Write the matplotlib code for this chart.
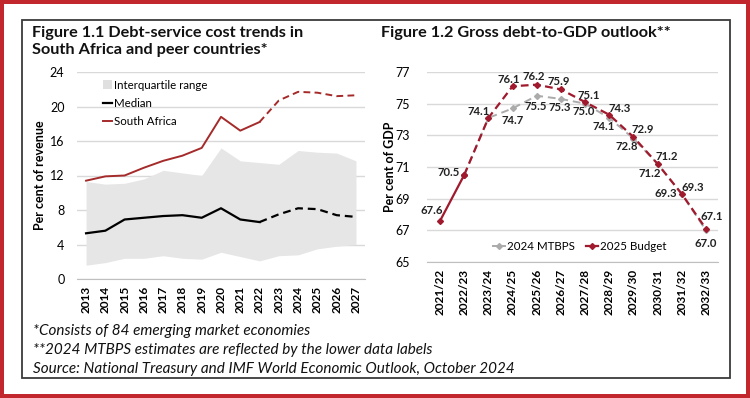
import matplotlib
matplotlib.use("Agg")
import matplotlib.pyplot as plt
from matplotlib.patches import Rectangle, Patch
from matplotlib.lines import Line2D
import numpy as np

plt.rcParams['font.family'] = ['Lato', 'DejaVu Sans']

# ---------------- data ----------------
years = ['2013', '2014', '2015', '2016', '2017', '2018', '2019', '2020',
         '2021', '2022', '2023', '2024', '2025', '2026', '2027']
south_africa = [11.4, 11.9, 12.0, 12.9, 13.7, 14.3, 15.2, 18.8, 17.2, 18.2,
                20.7, 21.7, 21.6, 21.2, 21.3]
median = [5.3, 5.6, 6.9, 7.1, 7.3, 7.4, 7.1, 8.2, 6.9, 6.6, 7.5, 8.2, 8.1, 7.4, 7.2]
iqr_upper = [11.3, 11.0, 11.1, 11.6, 12.6, 12.3, 12.0, 15.2, 13.7, 13.5, 13.3,
             14.9, 14.7, 14.6, 13.7]
iqr_lower = [1.6, 1.9, 2.4, 2.4, 2.7, 2.4, 2.3, 3.1, 2.6, 2.1, 2.7, 2.8, 3.5, 3.8, 4.0]
last_actual_year = '2022'

fiscal_years = ['2021/22', '2022/23', '2023/24', '2024/25', '2025/26', '2026/27',
                '2027/28', '2028/29', '2029/30', '2030/31', '2031/32', '2032/33']
budget_2025 = [67.6, 70.5, 74.1, 76.1, 76.2, 75.9, 75.1, 74.3, 72.9, 71.2, 69.3, 67.1]
mtbps_2024 = [67.6, 70.5, 74.1, 74.7, 75.5, 75.3, 75.0, 74.1, 72.8, 71.2, 69.3, 67.0]
last_actual_fy = '2022/23'

# label offsets (pixels) for data labels
budget_label_off = [(-8, 10), (-16, 2), (-10, 6), (-4, 7), (-3, 8), (-2, 8),
                    (4, 7), (10, 6), (9, 7), (9, 7), (11, 6), (6, 12)]
mtbps_label_off = [None, None, None, (0, -12), (-1, -11), (-1, -9), (-1, -8),
                   (-6, -9), (-7, -8), (-8, -10), (-16, 0), (0, -13)]

# ---------------- figure ----------------
W, H = 750, 398
fig = plt.figure(figsize=(W / 100, H / 100), dpi=100)

def fx(px):
    return px / W

def fy(py):
    return 1 - py / H

red_frame = '#C1272D'
# outer red frame
fig.patches.append(Rectangle((fx(2), fy(396)), fx(746), 394 / H, transform=fig.transFigure,
                             fill=False, edgecolor=red_frame, linewidth=4 * 0.72, zorder=0))
# inner dark frame
fig.patches.append(Rectangle((fx(22), fy(378)), fx(708), 358 / H, transform=fig.transFigure,
                             fill=False, edgecolor='#3a3a3a', linewidth=1.3, zorder=0))

grid_c = '#D9D9D9'
dark_red = '#A0192D'
sa_red = '#A52A2A'

# ---------------- left chart ----------------
axL = fig.add_axes([fx(77), fy(279), fx(365) - fx(77), (279 - 72) / H])
x = np.arange(len(years))
iA = years.index(last_actual_year)
axL.fill_between(x, iqr_lower, iqr_upper, color='#E6E6E6', lw=0, zorder=1)
axL.plot(x[:iA + 1], median[:iA + 1], color='black', lw=1.6, zorder=3)
axL.plot(x[iA:], median[iA:], color='black', lw=1.6, ls=(0, (3.5, 2.2)), zorder=3)
axL.plot(x[:iA + 1], south_africa[:iA + 1], color=sa_red, lw=1.4, zorder=3)
axL.plot(x[iA:], south_africa[iA:], color=sa_red, lw=1.4, ls=(0, (3.5, 2.2)), zorder=3)
axL.set_xlim(-0.47, len(years) - 1 + 0.47)
axL.set_ylim(0, 24)
axL.set_yticks(range(0, 25, 4))
axL.set_xticks(x)
axL.set_xticklabels(years, rotation=90, fontsize=8.5, fontweight='bold')
axL.tick_params(axis='y', labelsize=9, length=0, pad=9)
axL.tick_params(axis='x', length=0, pad=5)
axL.grid(axis='y', color=grid_c, lw=1)
axL.set_axisbelow(True)
for s in ['top', 'right', 'left']:
    axL.spines[s].set_visible(False)
axL.spines['bottom'].set_color('#BFBFBF')
axL.set_ylabel('Per cent of revenue', fontsize=9, fontweight='bold', labelpad=3)
handles = [Patch(facecolor='#E0E0E0', edgecolor='none'),
           Line2D([], [], color='black', lw=1.6),
           Line2D([], [], color=sa_red, lw=1.4)]
axL.legend(handles, ['Interquartile range', 'Median', 'South Africa'],
           loc='upper left', bbox_to_anchor=(0.075, 0.985), frameon=False,
           fontsize=8.3, handlelength=0.8, handleheight=0.8, handletextpad=0.15,
           labelspacing=0.62, borderaxespad=0)

# ---------------- right chart ----------------
axR = fig.add_axes([fx(427), fy(262), fx(718) - fx(427), (262 - 72) / H])
xr = np.arange(len(fiscal_years))
jA = fiscal_years.index(last_actual_fy)
gray = '#ABABAB'
axR.plot(xr[jA:], mtbps_2024[jA:], color=gray, lw=1.4, ls=(0, (4, 2.5)),
         marker='D', ms=3, zorder=2)
axR.plot(xr[:jA + 1], budget_2025[:jA + 1], color=dark_red, lw=1.6, marker='D', ms=3, zorder=3)
axR.plot(xr[jA:], budget_2025[jA:], color=dark_red, lw=1.6, ls=(0, (3.5, 2)),
         marker='D', ms=3, zorder=3)
for i, v in enumerate(budget_2025):
    dx, dy = budget_label_off[i]
    axR.annotate(f'{v:.1f}', (xr[i], v), xytext=(dx, dy), textcoords='offset pixels',
                 ha='center', va='center', fontsize=8.2, fontweight='bold', color='#222222')
for i, v in enumerate(mtbps_2024):
    if mtbps_label_off[i] is None:
        continue
    dx, dy = mtbps_label_off[i]
    axR.annotate(f'{v:.1f}', (xr[i], v), xytext=(dx, dy), textcoords='offset pixels',
                 ha='center', va='center', fontsize=8.2, fontweight='bold', color='#222222')
axR.set_xlim(-0.54, len(fiscal_years) - 1 + 0.5)
axR.set_ylim(65, 77)
axR.set_yticks(range(65, 78, 2))
axR.set_xticks(xr)
axR.set_xticklabels(fiscal_years, rotation=90, fontsize=8.5, fontweight='bold')
axR.tick_params(axis='y', labelsize=9, length=0, pad=12)
axR.tick_params(axis='x', length=0, pad=5)
axR.grid(axis='y', color=grid_c, lw=1)
axR.set_axisbelow(True)
for s in ['top', 'right', 'left']:
    axR.spines[s].set_visible(False)
axR.spines['bottom'].set_color('#BFBFBF')
axR.set_ylabel('Per cent of GDP', fontsize=9, fontweight='bold', labelpad=0)
h2 = [Line2D([], [], color=gray, lw=1.4, marker='D', ms=3),
      Line2D([], [], color=dark_red, lw=1.6, marker='D', ms=3)]
axR.legend(h2, ['2024 MTBPS', '2025 Budget'], loc='center',
           bbox_to_anchor=((580 - 427) / 291, (262 - 247) / 190), ncol=2, frameon=False,
           fontsize=8.3, handlelength=1.0, handletextpad=0.2, columnspacing=1.0)

# ---------------- titles & notes ----------------
fig.text(fx(32), fy(26), 'Figure 1.1 Debt-service cost trends in\nSouth Africa and peer countries*',
         ha='left', va='top', fontsize=11.7, fontweight='bold', linespacing=1.25, color='#111111')
fig.text(fx(381), fy(26), 'Figure 1.2 Gross debt-to-GDP outlook**',
         ha='left', va='top', fontsize=11.7, fontweight='bold', color='#111111')
notes = ['*Consists of 84 emerging market economies',
         '**2024 MTBPS estimates are reflected by the lower data labels',
         'Source: National Treasury and IMF World Economic Outlook, October 2024']
for k, t in enumerate(notes):
    fig.text(fx(33), fy(335 + 19 * k), t, ha='left', va='baseline', fontsize=11,
             style='italic', color='#111111')

fig.savefig('out.png', dpi=100)
